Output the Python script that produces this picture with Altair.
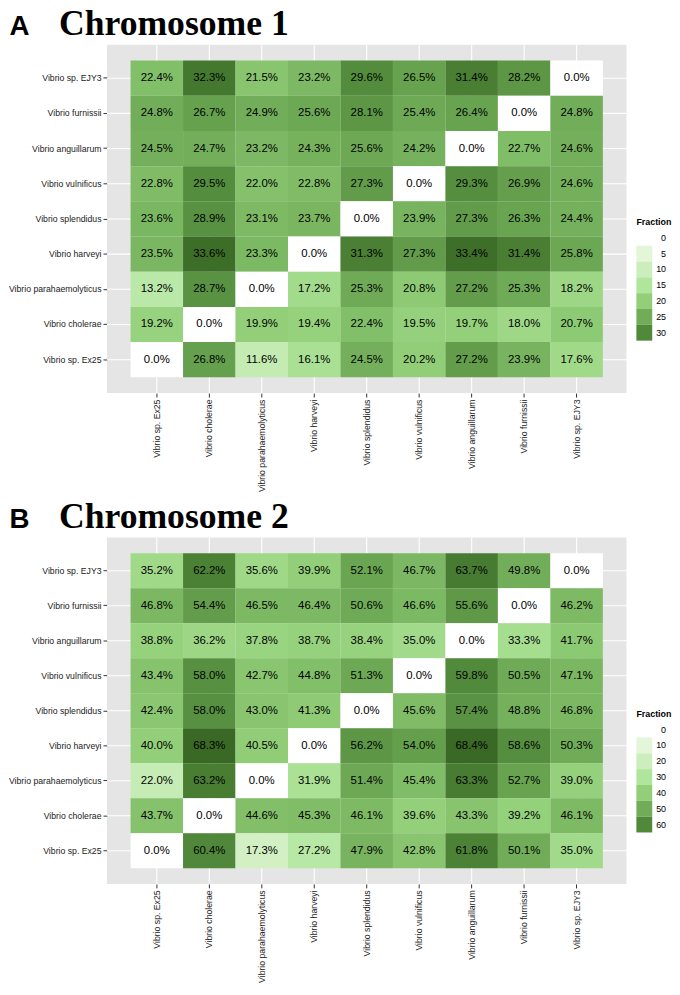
import altair as alt
import pandas as pd

# ---- data -------------------------------------------------------------
species_cols = ["Vibrio sp. Ex25", "Vibrio cholerae", "Vibrio parahaemolyticus",
                "Vibrio harveyi", "Vibrio splendidus", "Vibrio vulnificus",
                "Vibrio anguillarum", "Vibrio furnissii", "Vibrio sp. EJY3"]
species_rows = ["Vibrio sp. EJY3", "Vibrio furnissii", "Vibrio anguillarum",
                "Vibrio vulnificus", "Vibrio splendidus", "Vibrio harveyi",
                "Vibrio parahaemolyticus", "Vibrio cholerae", "Vibrio sp. Ex25"]

chr1_ejy3 = [22.4, 32.3, 21.5, 23.2, 29.6, 26.5, 31.4, 28.2, 0.0]
chr1_furnissii = [24.8, 26.7, 24.9, 25.6, 28.1, 25.4, 26.4, 0.0, 24.8]
chr1_anguillarum = [24.5, 24.7, 23.2, 24.3, 25.6, 24.2, 0.0, 22.7, 24.6]
chr1_vulnificus = [22.8, 29.5, 22.0, 22.8, 27.3, 0.0, 29.3, 26.9, 24.6]
chr1_splendidus = [23.6, 28.9, 23.1, 23.7, 0.0, 23.9, 27.3, 26.3, 24.4]
chr1_harveyi = [23.5, 33.6, 23.3, 0.0, 31.3, 27.3, 33.4, 31.4, 25.8]
chr1_parahaem = [13.2, 28.7, 0.0, 17.2, 25.3, 20.8, 27.2, 25.3, 18.2]
chr1_cholerae = [19.2, 0.0, 19.9, 19.4, 22.4, 19.5, 19.7, 18.0, 20.7]
chr1_ex25 = [0.0, 26.8, 11.6, 16.1, 24.5, 20.2, 27.2, 23.9, 17.6]

chr2_ejy3 = [35.2, 62.2, 35.6, 39.9, 52.1, 46.7, 63.7, 49.8, 0.0]
chr2_furnissii = [46.8, 54.4, 46.5, 46.4, 50.6, 46.6, 55.6, 0.0, 46.2]
chr2_anguillarum = [38.8, 36.2, 37.8, 38.7, 38.4, 35.0, 0.0, 33.3, 41.7]
chr2_vulnificus = [43.4, 58.0, 42.7, 44.8, 51.3, 0.0, 59.8, 50.5, 47.1]
chr2_splendidus = [42.4, 58.0, 43.0, 41.3, 0.0, 45.6, 57.4, 48.8, 46.8]
chr2_harveyi = [40.0, 68.3, 40.5, 0.0, 56.2, 54.0, 68.4, 58.6, 50.3]
chr2_parahaem = [22.0, 63.2, 0.0, 31.9, 51.4, 45.4, 63.3, 52.7, 39.0]
chr2_cholerae = [43.7, 0.0, 44.6, 45.3, 46.1, 39.6, 43.3, 39.2, 46.1]
chr2_ex25 = [0.0, 60.4, 17.3, 27.2, 47.9, 42.8, 61.8, 50.1, 35.0]

chr1_rows = [chr1_ejy3, chr1_furnissii, chr1_anguillarum, chr1_vulnificus,
             chr1_splendidus, chr1_harveyi, chr1_parahaem, chr1_cholerae, chr1_ex25]
chr2_rows = [chr2_ejy3, chr2_furnissii, chr2_anguillarum, chr2_vulnificus,
             chr2_splendidus, chr2_harveyi, chr2_parahaem, chr2_cholerae, chr2_ex25]

legend1_values = [0, 5, 10, 15, 20, 25, 30]
legend2_values = [0, 10, 20, 30, 40, 50, 60]
color_stops1 = [0, 5, 10, 15, 20, 25, 30, 35]
color_stops2 = [0, 10, 20, 30, 40, 50, 60, 70]
green_range = ["#FFFFFF", "#E4F6DA", "#CCEEBC", "#B0E59C", "#92CF78",
               "#71AD58", "#51893B", "#356320"]


def to_frame(rows):
    recs = []
    for rname, vals in zip(species_rows, rows):
        for cname, v in zip(species_cols, vals):
            recs.append({"row": rname, "col": cname, "v": v})
    return pd.DataFrame(recs)


LBL_FONT = "Liberation Sans"


def panel(rows, letter, title, stops, legend_values, height, legend_y):
    df = to_frame(rows)
    x = alt.X("col:N", sort=species_cols,
              scale=alt.Scale(paddingInner=0, paddingOuter=0.45),
              axis=alt.Axis(title=title, titleX=-49, titleY=-(height + 10),
                            titleAlign="left", titleBaseline="alphabetic",
                            titleFont="Liberation Serif", titleFontSize=36,
                            titleFontWeight="bold", titleColor="black",
                            labelAngle=-90, labelAlign="right",
                            labelBaseline="middle"))
    y = alt.Y("row:N", sort=species_rows,
              scale=alt.Scale(paddingInner=0, paddingOuter=0.45),
              axis=alt.Axis(title=letter, titleAngle=0, titleX=-99, titleY=-10,
                            titleAlign="left", titleBaseline="alphabetic",
                            titleFont=LBL_FONT, titleFontSize=28,
                            titleFontWeight="bold", titleColor="black"))
    vgrid = alt.Chart(pd.DataFrame({"col": species_cols})).mark_rule(
        color="white", strokeWidth=1.1).encode(x=x)
    hgrid = alt.Chart(pd.DataFrame({"row": species_rows})).mark_rule(
        color="white", strokeWidth=1.1).encode(y=y)
    base = alt.Chart(df).transform_calculate(
        lbl="format(datum.v, '.1f') + '%'"
    )
    rect = base.mark_rect().encode(
        x=x, y=y,
        color=alt.Color(
            "v:Q",
            scale=alt.Scale(domain=stops, range=green_range, interpolate="rgb", clamp=True),
            legend=alt.Legend(type="symbol", values=legend_values, orient="none",
                              legendX=535, legendY=legend_y, title="Fraction",
                              titleFont=LBL_FONT, titleFontSize=9,
                              titleFontWeight="bold", titleColor="black",
                              titlePadding=3, titleBaseline="top",
                              labelFont=LBL_FONT, labelFontSize=9,
                              labelColor="black", labelAlign="right",
                              labelOffset=14, symbolType="square",
                              symbolSize=256, symbolStrokeWidth=0,
                              rowPadding=0, padding=0),
        ),
    )
    text = base.mark_text(font=LBL_FONT, fontSize=11.5, color="black").encode(
        x=x, y=y, text="lbl:N"
    )
    return alt.layer(vgrid, hgrid, rect, text).properties(width=525, height=height)


pA = panel(chr1_rows, "A", "Chromosome 1", color_stops1, legend1_values, 352, 175)
pB = panel(chr2_rows, "B", "Chromosome 2", color_stops2, legend2_values, 350, 174)

chart = (
    alt.vconcat(pA, pB, spacing=7)
    .resolve_scale(color="independent")
    .properties(padding={"top": -7, "left": 0, "right": 0, "bottom": 0})
    .configure_view(fill="#E5E5E5", strokeWidth=0)
    .configure_axis(
        bandPosition=0.5, grid=False,
        domain=False, ticks=True, tickColor="#333333", tickSize=4,
        tickWidth=1, labelFont=LBL_FONT, labelFontSize=8.8,
        labelColor="#222222", labelPadding=2
    )
)

chart.save("out.html", embed_options={"renderer": "svg", "actions": False})
